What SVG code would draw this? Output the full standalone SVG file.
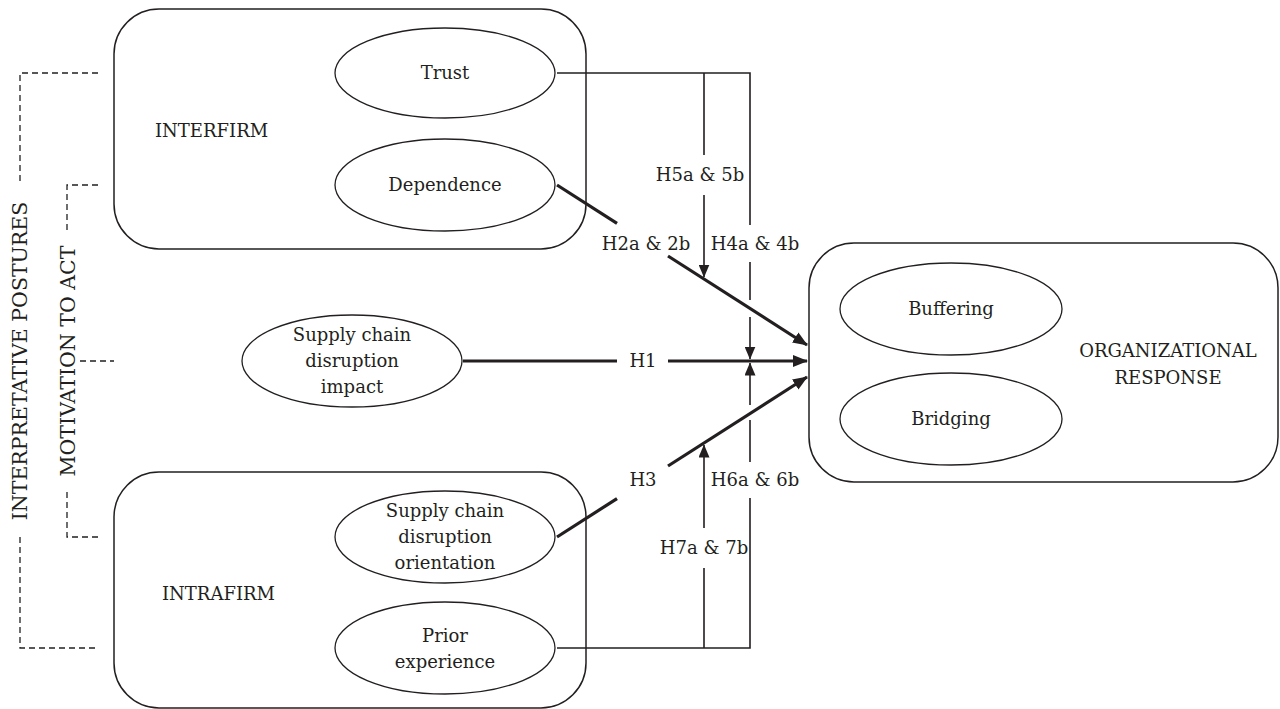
<svg xmlns="http://www.w3.org/2000/svg" width="1280" height="709" viewBox="0 0 1280 709">
<style>
text{font-family:"DejaVu Serif","Liberation Serif",serif;font-size:18px;fill:#231f20;text-anchor:middle}
.box{fill:none;stroke:#231f20;stroke-width:1.5}
.ell{fill:#fff;stroke:#231f20;stroke-width:1.3}
.thin{fill:none;stroke:#231f20;stroke-width:1.6}
.thick{fill:none;stroke:#231f20;stroke-width:3.2}
.dash{fill:none;stroke:#231f20;stroke-width:1.3;stroke-dasharray:6 4}
.lab{text-anchor:start}
.big{font-size:20.5px}
</style>
<defs>
<marker id="ah" markerUnits="userSpaceOnUse" viewBox="0 0 15 12" refX="14" refY="6" markerWidth="15" markerHeight="12" orient="auto">
<path d="M0,0 L15,6 L0,12 z" fill="#231f20"/>
</marker>
<marker id="at" markerUnits="userSpaceOnUse" viewBox="0 0 13 11" refX="12.5" refY="5.5" markerWidth="13" markerHeight="11" orient="auto">
<path d="M0,0 L13,5.5 L0,11 z" fill="#231f20"/>
</marker>
</defs>

<g id="interfirm">
<rect class="box" x="114" y="9" width="472" height="240" rx="45"/>
<text class="lab" x="155" y="137">INTERFIRM</text>
</g>
<g id="intrafirm">
<rect class="box" x="114" y="472" width="472" height="236" rx="45"/>
<text class="lab" x="162" y="600">INTRAFIRM</text>
</g>
<g id="organizational-response">
<rect class="box" x="809" y="243" width="469" height="239" rx="45"/>
<text x="1168" y="357">ORGANIZATIONAL</text>
<text x="1168" y="384">RESPONSE</text>
</g>

<g id="connectors">
<path class="thin" d="M557,73 H750 V225 M750,262 V300 M750,317 V359" marker-end="url(#at)"/>
<path class="thin" d="M704,73 V155 M704,195 V277" marker-end="url(#at)"/>
<path class="thin" d="M557,648 H750 V498 M750,462 V420 M750,405 V363" marker-end="url(#at)"/>
<path class="thin" d="M704,648 V568 M704,528 V445" marker-end="url(#at)"/>
<line class="thick" x1="557" y1="185" x2="617" y2="223.4"/>
<line class="thick" x1="668" y1="256" x2="807" y2="345" marker-end="url(#ah)"/>
<line class="thick" x1="463" y1="361" x2="617" y2="361"/>
<line class="thick" x1="668" y1="361" x2="807" y2="361" marker-end="url(#ah)"/>
<line class="thick" x1="557" y1="537" x2="617" y2="498.6"/>
<line class="thick" x1="668" y1="466" x2="807" y2="377" marker-end="url(#ah)"/>
<text x="700" y="181">H5a &amp; 5b</text>
<text x="646" y="250">H2a &amp; 2b</text>
<text x="755" y="250">H4a &amp; 4b</text>
<text x="643" y="367">H1</text>
<text x="643" y="486">H3</text>
<text x="755" y="486">H6a &amp; 6b</text>
<text x="704" y="554">H7a &amp; 7b</text>
</g>

<g id="trust">
<ellipse class="ell" cx="445" cy="73" rx="110" ry="45"/>
<text x="445" y="79">Trust</text>
</g>
<g id="dependence">
<ellipse class="ell" cx="445" cy="185" rx="110" ry="46"/>
<text x="445" y="191">Dependence</text>
</g>
<g id="impact">
<ellipse class="ell" cx="352" cy="361" rx="110" ry="46"/>
<text x="352" y="341">Supply chain</text>
<text x="352" y="367">disruption</text>
<text x="352" y="393">impact</text>
</g>
<g id="orientation">
<ellipse class="ell" cx="445" cy="537" rx="110" ry="46"/>
<text x="445" y="517">Supply chain</text>
<text x="445" y="543">disruption</text>
<text x="445" y="569">orientation</text>
</g>
<g id="prior-experience">
<ellipse class="ell" cx="445" cy="648" rx="110" ry="46"/>
<text x="445" y="642">Prior</text>
<text x="445" y="668">experience</text>
</g>
<g id="buffering">
<ellipse class="ell" cx="951" cy="309" rx="111" ry="46"/>
<text x="951" y="315">Buffering</text>
</g>
<g id="bridging">
<ellipse class="ell" cx="951" cy="419" rx="111" ry="46"/>
<text x="951" y="425">Bridging</text>
</g>

<g id="interpretative-postures">
<path class="dash" d="M98,73 H20 V185 M20,537 V648 H98"/>
<text class="big" transform="translate(27,361) rotate(-90)">INTERPRETATIVE POSTURES</text>
</g>
<g id="motivation-to-act">
<path class="dash" d="M98,185 H67 V230 M67,492 V537 H98 M80,361 H114"/>
<text class="big" transform="translate(75,361) rotate(-90)">MOTIVATION TO ACT</text>
</g>
</svg>
